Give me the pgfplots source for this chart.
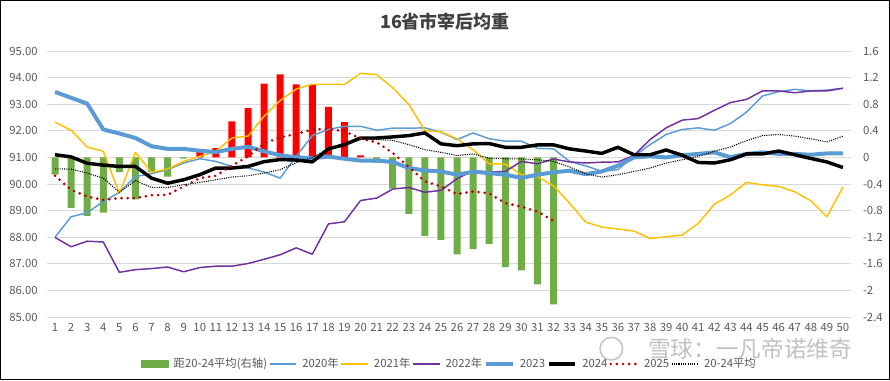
\documentclass[border=0pt]{standalone}
\usepackage{fontspec}
\setmainfont{Noto Sans CJK SC}
\usepackage{pgfplots}
\pgfplotsset{compat=1.18}
\definecolor{cA}{HTML}{5B9BD5}
\definecolor{cB}{HTML}{FFC000}
\definecolor{cC}{HTML}{7030A0}
\definecolor{cR}{HTML}{C00000}
\definecolor{barG}{HTML}{70AD47}
\definecolor{barR}{HTML}{FF0000}
\definecolor{gridc}{HTML}{D9D9D9}
\definecolor{lab}{HTML}{595959}
\definecolor{ttl}{HTML}{404040}
\begin{document}
\begin{tikzpicture}
\useasboundingbox (0,0) rectangle (667.5pt,285pt);
% ---------- bars on right axis ----------
\begin{axis}[
  at={(35.25pt,47.25pt)}, anchor=south west,
  scale only axis, width=603pt, height=199.5pt,
  xmin=0.5, xmax=50.5, ymin=-2.4, ymax=1.6,
  axis y line*=right, axis x line=none,
  y axis line style={draw=none},
  major tick length=0pt,
  ytick={-2.4,-2,-1.6,-1.2,-0.8,-0.4,0,0.4,0.8,1.2,1.6},
  yticklabels={-2.4,-2,-1.6,-1.2,-0.8,-0.4,0,0.4,0.8,1.2,1.6},
  yticklabel style={font=\fontsize{8.5pt}{10pt}\selectfont, text=lab, xshift=5.5pt},
  ymajorgrids, grid style={color=gridc, line width=0.75pt},
  clip=false,
]
\addplot[ybar, bar width=5.25pt, bar shift=0pt, fill=barR, draw=none] coordinates {
(10,0.08)(11,0.14)(12,0.54)(13,0.74)(14,1.11)(15,1.25)(16,1.10)(17,1.10)(18,0.76)(19,0.53)(20,0.03)};
\addplot[ybar, bar width=5.25pt, bar shift=0pt, fill=barG, draw=none] coordinates {
(1,-0.26)(2,-0.76)(3,-0.88)(4,-0.83)(5,-0.22)(6,-0.63)(7,-0.22)(8,-0.29)(9,-0.02)
(21,-0.08)(22,-0.47)(23,-0.85)(24,-1.18)(25,-1.24)(26,-1.46)(27,-1.38)(28,-1.30)
(29,-1.65)(30,-1.70)(31,-1.91)(32,-2.21)};
\end{axis}
% ---------- lines on left axis ----------
\begin{axis}[
  at={(35.25pt,47.25pt)}, anchor=south west,
  scale only axis, width=603pt, height=199.5pt,
  xmin=0.5, xmax=50.5, ymin=85, ymax=95,
  axis y line*=left, axis x line*=bottom,
  axis line style={draw=none},
  major tick length=0pt,
  xtick={1,...,50},
  ytick={85,86,87,88,89,90,91,92,93,94,95},
  yticklabels={85.00,86.00,87.00,88.00,89.00,90.00,91.00,92.00,93.00,94.00,95.00},
  /pgf/number format/assume math mode=true,
  ticklabel style={font=\fontsize{8.5pt}{10pt}\selectfont, text=lab},
  yticklabel style={xshift=-3.5pt},
  xticklabel style={yshift=-1pt},
  legend columns=8,
  legend style={draw=none, fill=none, at={(0.5006,-0.1767)}, anchor=center,
    font=\fontsize{8.5pt}{10pt}\selectfont, text=lab,
    nodes={inner sep=1.4pt}, column sep=0pt,
    /tikz/every odd column/.append style={column sep=2.5pt}},
  legend image code/.code={\draw[#1] (0pt,0pt) -- (20pt,0pt);},
  line join=round,
]
\addlegendimage{legend image code/.code={\fill[barG] (0pt,-2.7pt) rectangle (20pt,2.7pt);}}
\addlegendentry{距20-24平均(右轴)}
\addplot[cA, line width=1.1pt] coordinates {
(1,88.00)(2,88.77)(3,88.92)(4,89.34)(5,89.68)(6,90.28)(7,90.39)(8,90.54)(9,90.79)(10,90.95)
(11,90.85)(12,90.66)(13,90.60)(14,90.45)(15,90.22)(16,91.04)(17,91.82)(18,92.05)(19,92.17)(20,92.17)
(21,92.02)(22,92.10)(23,92.10)(24,92.11)(25,91.95)(26,91.67)(27,91.92)(28,91.70)(29,91.61)(30,91.61)
(31,91.34)(32,91.32)(33,90.85)(34,90.68)(35,90.48)(36,90.54)(37,91.04)(38,91.48)(39,91.86)(40,92.05)
(41,92.11)(42,92.02)(43,92.27)(44,92.70)(45,93.31)(46,93.47)(47,93.56)(48,93.50)(49,93.53)(50,93.60)};
\addlegendentry{2020年}
\addplot[cB, line width=1.1pt] coordinates {
(1,92.32)(2,92.02)(3,91.39)(4,91.23)(5,89.65)(6,91.19)(7,90.44)(8,90.56)(9,90.85)(10,91.04)
(11,91.23)(12,91.73)(13,91.80)(14,92.55)(15,93.14)(16,93.57)(17,93.75)(18,93.75)(19,93.74)(20,94.16)
(21,94.11)(22,93.62)(23,92.99)(24,92.01)(25,91.96)(26,91.70)(27,91.29)(28,90.76)(29,90.75)(30,90.35)
(31,90.28)(32,89.93)(33,89.28)(34,88.57)(35,88.38)(36,88.31)(37,88.23)(38,87.95)(39,88.02)(40,88.08)
(41,88.52)(42,89.24)(43,89.59)(44,90.06)(45,89.97)(46,89.91)(47,89.71)(48,89.37)(49,88.77)(50,89.88)};
\addlegendentry{2021年}
\addplot[cC, line width=1.1pt] coordinates {
(1,87.99)(2,87.64)(3,87.85)(4,87.82)(5,86.68)(6,86.78)(7,86.82)(8,86.88)(9,86.70)(10,86.86)
(11,86.91)(12,86.91)(13,87.01)(14,87.17)(15,87.34)(16,87.60)(17,87.36)(18,88.50)(19,88.58)(20,89.38)
(21,89.47)(22,89.81)(23,89.87)(24,89.69)(25,89.76)(26,90.20)(27,90.50)(28,90.45)(29,90.47)(30,90.85)
(31,90.76)(32,90.94)(33,90.83)(34,90.79)(35,90.82)(36,90.83)(37,91.07)(38,91.67)(39,92.11)(40,92.40)
(41,92.46)(42,92.77)(43,93.06)(44,93.18)(45,93.50)(46,93.50)(47,93.43)(48,93.50)(49,93.50)(50,93.60)};
\addlegendentry{2022年}
\addplot[cA, line width=3pt] coordinates {
(1,93.46)(2,93.24)(3,93.02)(4,92.05)(5,91.90)(6,91.73)(7,91.42)(8,91.32)(9,91.32)(10,91.25)
(11,91.20)(12,91.32)(13,91.40)(14,91.23)(15,91.08)(16,91.00)(17,90.97)(18,91.03)(19,90.95)(20,90.88)
(21,90.88)(22,90.83)(23,90.60)(24,90.51)(25,90.47)(26,90.35)(27,90.46)(28,90.41)(29,90.35)(30,90.23)
(31,90.35)(32,90.44)(33,90.50)(34,90.37)(35,90.47)(36,90.69)(37,91.00)(38,91.04)(39,91.00)(40,91.08)
(41,91.13)(42,91.19)(43,91.01)(44,91.13)(45,91.19)(46,91.13)(47,91.13)(48,91.10)(49,91.15)(50,91.15)};
\addlegendentry{2023}
\addplot[black, line width=2.6pt] coordinates {
(1,91.10)(2,91.02)(3,90.78)(4,90.71)(5,90.66)(6,90.66)(7,90.22)(8,90.03)(9,90.16)(10,90.35)
(11,90.60)(12,90.60)(13,90.66)(14,90.84)(15,90.92)(16,90.90)(17,90.83)(18,91.32)(19,91.48)(20,91.73)
(21,91.73)(22,91.77)(23,91.82)(24,91.92)(25,91.51)(26,91.44)(27,91.51)(28,91.52)(29,91.38)(30,91.38)
(31,91.47)(32,91.47)(33,91.32)(34,91.24)(35,91.15)(36,91.38)(37,91.10)(38,91.10)(39,91.28)(40,91.08)
(41,90.81)(42,90.79)(43,90.91)(44,91.13)(45,91.13)(46,91.24)(47,91.10)(48,90.96)(49,90.83)(50,90.62)};
\addlegendentry{2024}
\addplot[cR, line width=2.2pt, line cap=round, dash pattern=on 0pt off 4.6pt] coordinates {
(1,90.31)(2,89.78)(3,89.53)(4,89.40)(5,89.47)(6,89.47)(7,89.58)(8,89.59)(9,89.91)(10,90.22)
(11,90.31)(12,90.69)(13,91.04)(14,91.52)(15,91.76)(16,91.88)(17,92.05)(18,92.07)(19,91.98)(20,91.71)
(21,91.57)(22,91.17)(23,90.64)(24,90.10)(25,89.91)(26,89.62)(27,89.72)(28,89.65)(29,89.28)(30,89.15)
(31,88.96)(32,88.62)};
\addlegendentry{2025}
\addplot[black, line width=0.8pt, dash pattern=on 0.8pt off 0.9pt] coordinates {
(1,90.57)(2,90.56)(3,90.41)(4,90.22)(5,89.69)(6,90.13)(7,89.87)(8,89.87)(9,89.97)(10,90.06)
(11,90.16)(12,90.26)(13,90.31)(14,90.41)(15,90.54)(16,90.80)(17,91.00)(18,91.33)(19,91.50)(20,91.67)
(21,91.67)(22,91.64)(23,91.48)(24,91.29)(25,91.19)(26,91.07)(27,91.13)(28,90.97)(29,90.95)(30,90.94)
(31,90.91)(32,90.85)(33,90.64)(34,90.38)(35,90.26)(36,90.35)(37,90.47)(38,90.60)(39,90.79)(40,90.91)
(41,91.04)(42,91.23)(43,91.39)(44,91.63)(45,91.82)(46,91.86)(47,91.80)(48,91.70)(49,91.58)(50,91.80)};
\addlegendentry{20-24平均}
\end{axis}
% title
\node[font=\bfseries\fontsize{13.5pt}{15pt}\selectfont, text=ttl] at (333.75pt,268.5pt) {16省市宰后均重};
% watermark
\node[font=\fontsize{17pt}{19pt}\selectfont, text=black!30, opacity=0.8] at (562.5pt,23pt) {雪球：一凡帝诺维奇};
\draw[black!28, line width=1.2pt, opacity=0.8] (458.5pt,23.5pt) circle (8.5pt);
% frame
\draw[black, line width=0.9pt] (0.45pt,0.45pt) rectangle (667.05pt,284.55pt);
\end{tikzpicture}
\end{document}
